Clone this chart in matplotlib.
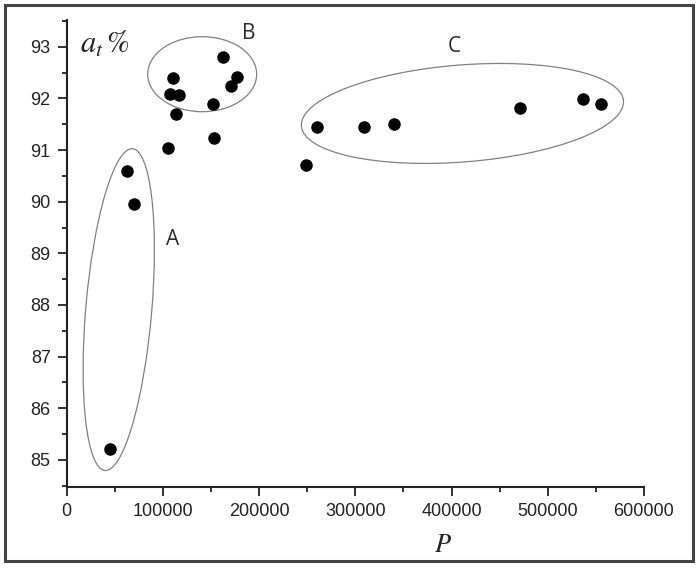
import matplotlib
matplotlib.use('Agg')
import matplotlib.pyplot as plt
import matplotlib.patches as mpatches
import matplotlib.transforms as mtransforms
from matplotlib.ticker import MultipleLocator

# data points
p_values = [45000, 62300, 69900, 105500, 107300, 110000, 113500, 116600,
            152200, 153000, 162000, 171000, 176500, 248500, 260600,
            308700, 340200, 470700, 536500, 555600]
at_values = [85.21, 90.60, 89.96, 91.05, 92.08, 92.39, 91.70, 92.07,
             91.90, 91.23, 92.81, 92.24, 92.42, 90.71, 91.44,
             91.44, 91.50, 91.81, 91.99, 91.90]

# group outlines: centre (data), width/height in pixels, tilt in degrees
group_names = ['A', 'B', 'C']
group_centres = [(54100, 87.91), (140800, 92.47), (411300, 91.71)]
group_sizes = [(66, 323), (109, 75), (323, 97)]
group_angles = [-4.9, 0, 4.5]
group_label_px = [(172.7, 239.3), (248.3, 33.3), (454.3, 46.7)]

W, H = 700, 569
fig = plt.figure(figsize=(W / 100, H / 100), dpi=100)
ax = fig.add_axes([66.7 / W, 1 - 486.7 / H, (644 - 66.7) / W, (486.7 - 20) / H])

ax.scatter(p_values, at_values, s=64, color='black', zorder=3)

ax.set_xlim(0, 600000)
ax.set_ylim(84.48, 93.52)
ax.xaxis.set_major_locator(MultipleLocator(100000))
ax.xaxis.set_minor_locator(MultipleLocator(50000))
ax.yaxis.set_major_locator(MultipleLocator(1))
ax.yaxis.set_minor_locator(MultipleLocator(0.5))

for s in ['top', 'right']:
    ax.spines[s].set_visible(False)
for s in ['left', 'bottom']:
    ax.spines[s].set_linewidth(1.5)
    ax.spines[s].set_color('#222222')

ax.tick_params(which='major', direction='out', length=6.5, width=1.3, color='#222222',
               labelsize=13, pad=5, labelcolor='#222222')
ax.tick_params(which='minor', direction='out', length=3.6, width=1.3, color='#222222')
for lab in ax.get_xticklabels() + ax.get_yticklabels():
    lab.set_fontfamily('Liberation Sans')

# ellipses drawn in pixel units around a data-space centre
for (cx, cy), (w, h), ang in zip(group_centres, group_sizes, group_angles):
    tr = fig.dpi_scale_trans + mtransforms.ScaledTranslation(cx, cy, ax.transData)
    e = mpatches.Ellipse((0, 0), w / 100, h / 100, angle=ang, transform=tr,
                         fill=False, edgecolor='#808080', linewidth=0.9, clip_on=False)
    ax.add_patch(e)

for name, (lx, ly) in zip(group_names, group_label_px):
    fig.text(lx / W, 1 - ly / H, name, ha='center', va='center',
             fontsize=15, family='Open Sans', color='#2a2a2a')

plt.rcParams['mathtext.fontset'] = 'stix'
fig.text(80 / W, 1 - 53 / H, r'$a_t\,\%$', fontsize=22, ha='left', va='baseline',
         color='#222222')
fig.text(443 / W, 1 - 552 / H, r'$P$', fontsize=19, ha='center', va='baseline',
         color='#222222')

# outer frame
frame = mpatches.Rectangle((4.7 / W, 1 - 561 / H), (693.3 - 4.7) / W, (561 - 5.3) / H,
                           transform=fig.transFigure, fill=False,
                           edgecolor='#444444', linewidth=2.2)
fig.patches.append(frame)

fig.savefig('out.png', dpi=100)
